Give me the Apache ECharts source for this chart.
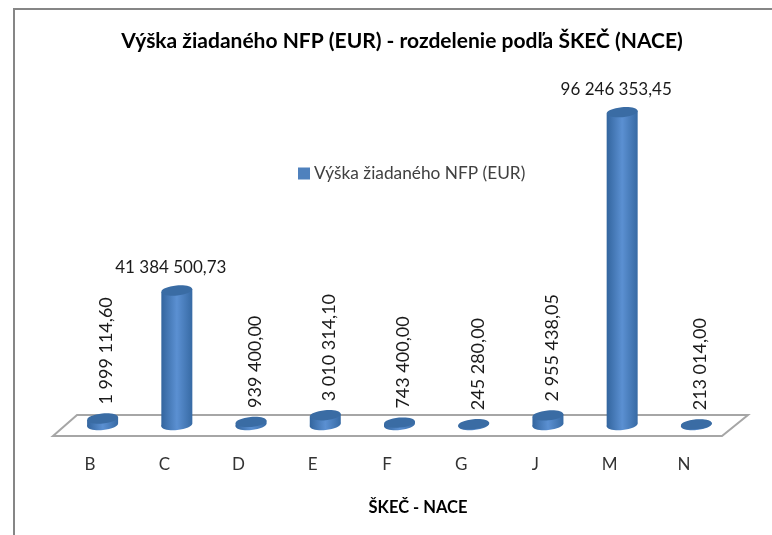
<!DOCTYPE html>
<html>

<head>
  <meta charset="utf-8">
  <title>Výška žiadaného NFP (EUR)</title>
  <script src="https://cdn.jsdelivr.net/npm/echarts@6/dist/echarts.min.js"></script>
  <style>
    html, body { margin: 0; padding: 0; background: #fff; }
  </style>
</head>

<body>
  <div id="main" style="width: 772px;height:535px;"></div>
  <script type="text/javascript">
    var categories = ['B', 'C', 'D', 'E', 'F', 'G', 'J', 'M', 'N'];
    var nfpValues = [1999114.60, 41384500.73, 939400.00, 3010314.10, 743400.00, 245280.00, 2955438.05, 96246353.45, 213014.00];
    var seriesName = 'Výška žiadaného NFP (EUR)';
    // C and M carry horizontal labels, the others are turned upright
    var flatLabels = ['C', 'M'];

    var FONT = 'Lato, "Noto Sans", sans-serif';
    var RX = 15.5, RY = 5, TILT = 0.09;

    function formatValue(v) {
      var parts = v.toFixed(2).split('.');
      return parts[0].replace(/\B(?=(\d{3})+$)/g, ' ') + ',' + parts[1];
    }

    var bodyFill = new echarts.graphic.LinearGradient(0, 0, 1, 0, [
      { offset: 0, color: '#33659e' },
      { offset: 0.5, color: '#5b90d2' },
      { offset: 1, color: '#376aa4' }
    ]);

    function renderCylinder(params, api) {
      var idx = api.value(0);
      var base = api.coord([idx, 0]);
      var top = api.coord([idx, api.value(1)]);
      // the floor is drawn in perspective, so cylinders sit right of the label slot
      var cx = base[0] + 12.5;
      var dy = RX * TILT;
      var text = formatValue(api.value(1));
      var flat = flatLabels.indexOf(categories[idx]) >= 0;
      var children = [
        { type: 'ellipse', shape: { cx: 0, cy: 0, rx: RX, ry: RY }, x: cx, y: base[1], rotation: TILT, style: { fill: bodyFill } },
        {
          type: 'polygon',
          shape: { points: [[cx - RX, base[1] + dy], [cx - RX, top[1] + dy], [cx + RX, top[1] - dy], [cx + RX, base[1] - dy]] },
          style: { fill: bodyFill }
        },
        { type: 'ellipse', shape: { cx: 0, cy: 0, rx: RX, ry: RY }, x: cx, y: top[1], rotation: TILT, style: { fill: '#3a6ca4' } }
      ];
      if (flat) {
        children.push({
          type: 'text', x: cx - 6, y: top[1] - 23,
          style: { text: text, font: '17px ' + FONT, fill: '#1a1a1a', textAlign: 'center', textVerticalAlign: 'middle' }
        });
      } else {
        children.push({
          type: 'text', x: cx + 4, y: top[1] - 14, rotation: Math.PI / 2,
          style: { text: text, font: '18px ' + FONT, fill: '#1a1a1a', textAlign: 'left', textVerticalAlign: 'middle' }
        });
      }
      return { type: 'group', children: children };
    }

    function renderFloor(params, api) {
      var b = api.coord([0, 0]);
      var r = params.coordSys;
      var y = b[1];
      return {
        type: 'polygon',
        shape: { points: [[r.x, y + 11], [r.x + 24, y - 10], [r.x + r.width + 27, y - 10], [r.x + r.width + 1, y + 11]] },
        style: { fill: '#fff', stroke: '#a6a6a6', lineWidth: 2 }
      };
    }

    var myChart = echarts.init(document.getElementById('main'));

    var option = {
      animation: false,
      backgroundColor: '#fff',
      title: {
        text: 'Výška žiadaného NFP (EUR) - rozdelenie podľa ŠKEČ (NACE)',
        left: 397,
        top: 26,
        textAlign: 'center',
        textStyle: { fontFamily: FONT, fontSize: 21, fontWeight: 'bold', color: '#000' }
      },
      legend: {
        left: 293,
        top: 160,
        itemWidth: 12,
        itemHeight: 12,
        itemGap: 4,
        icon: 'rect',
        data: [seriesName],
        textStyle: { fontFamily: FONT, fontSize: 17.3, color: '#404040', padding: [0, 0, 0, -1] }
      },
      grid: { left: 53, right: 51, top: 100, bottom: 110 },
      xAxis: {
        type: 'category',
        data: categories,
        axisLine: { show: false },
        axisTick: { show: false },
        axisLabel: { margin: 31, fontFamily: FONT, fontSize: 17, color: '#333' },
        name: 'ŠKEČ - NACE',
        nameLocation: 'middle',
        nameGap: 74,
        nameTextStyle: { fontFamily: FONT, fontSize: 16.5, fontWeight: 'bold', color: '#000', padding: [0, 0, 0, 62] }
      },
      yAxis: { type: 'value', min: 0, max: 100000000, show: false },
      series: [
        {
          type: 'custom',
          silent: true,
          renderItem: renderFloor,
          data: [[0, 0]],
          z: 1,
          legendHoverLink: false
        },
        {
          name: seriesName,
          type: 'custom',
          renderItem: renderCylinder,
          itemStyle: { color: '#4f81bd' },
          encode: { x: 0, y: 1 },
          data: nfpValues.map(function (v, i) { return [i, v]; }),
          z: 2
        }
      ],
      // the frame runs off the right and bottom of the picture
      graphic: [{
        type: 'polyline',
        shape: { points: [[14, 535], [14, 9], [772, 9]] },
        style: { fill: 'none', stroke: '#868686', lineWidth: 2 },
        silent: true
      }]
    };

    myChart.setOption(option);
  </script>
</body>

</html>
